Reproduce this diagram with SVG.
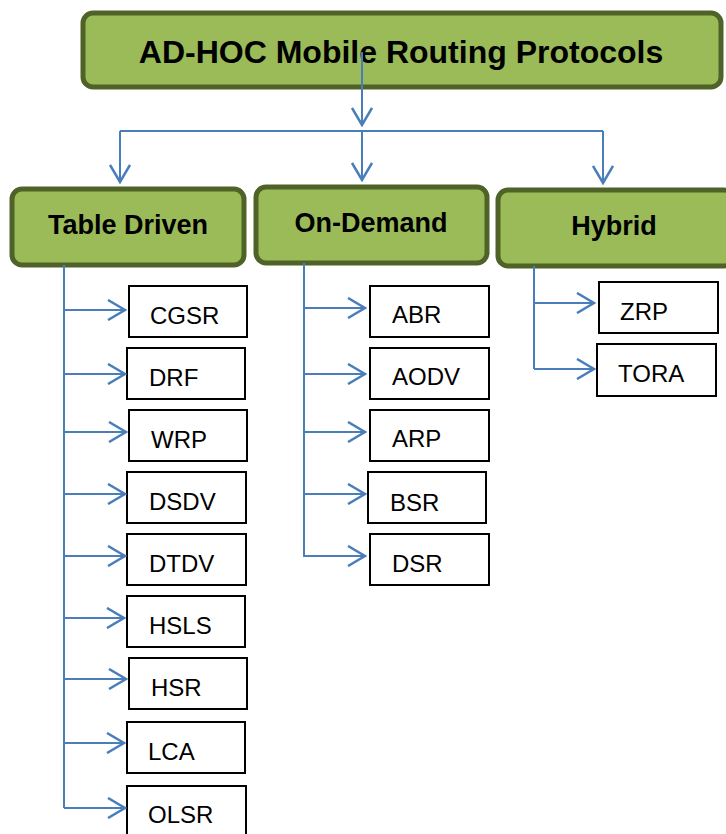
<svg xmlns="http://www.w3.org/2000/svg" width="726" height="834" viewBox="0 0 726 834">
<style>
.cat{fill:#9BBB59;stroke:#4F6228;stroke-width:5}
.leaf{fill:#FFFFFF;stroke:#000000;stroke-width:2}
.t1{font-family:"Liberation Sans",Arial,sans-serif;font-weight:bold;font-size:32px;fill:#000}
.t2{font-family:"Liberation Sans",Arial,sans-serif;font-weight:bold;font-size:27px;fill:#000}
.t3{font-family:"Liberation Sans",Arial,sans-serif;font-size:24px;fill:#000}
.c{fill:none;stroke:#4A7EBB;stroke-width:2}
</style>
<defs>
<marker id="ah" viewBox="0 0 20 22" refX="18" refY="11" markerWidth="20" markerHeight="22" markerUnits="userSpaceOnUse" orient="auto">
<path d="M1,1 L18,11 L1,21" fill="none" stroke="#4A7EBB" stroke-width="2.5"/>
</marker>
</defs>
<rect width="726" height="834" fill="#FFFFFF"/>
<g id="root">
<rect class="cat" x="83" y="13" width="638" height="74" rx="10"/>
<text class="t1" x="401" y="63" text-anchor="middle">AD-HOC Mobile Routing Protocols</text>
</g>
<g id="table-driven">
<rect class="cat" x="12" y="189" width="232" height="76" rx="10"/>
<text class="t2" x="128" y="234" text-anchor="middle">Table Driven</text>
</g>
<g id="on-demand">
<rect class="cat" x="256" y="187" width="231" height="76" rx="10"/>
<text class="t2" x="371" y="232" text-anchor="middle">On-Demand</text>
</g>
<g id="hybrid">
<rect class="cat" x="498" y="190" width="236" height="76" rx="10"/>
<text class="t2" x="614" y="235" text-anchor="middle">Hybrid</text>
</g>
<g id="cgsr"><rect class="leaf" x="129" y="286" width="118" height="51"/><text class="t3" x="150" y="324">CGSR</text></g>
<g id="drf"><rect class="leaf" x="127" y="348" width="118" height="51"/><text class="t3" x="149" y="386">DRF</text></g>
<g id="wrp"><rect class="leaf" x="129" y="410" width="118" height="51"/><text class="t3" x="151" y="448">WRP</text></g>
<g id="dsdv"><rect class="leaf" x="127" y="472" width="119" height="51"/><text class="t3" x="149" y="510">DSDV</text></g>
<g id="dtdv"><rect class="leaf" x="127" y="534" width="119" height="51"/><text class="t3" x="149" y="572">DTDV</text></g>
<g id="hsls"><rect class="leaf" x="127" y="596" width="118" height="51"/><text class="t3" x="149" y="634">HSLS</text></g>
<g id="hsr"><rect class="leaf" x="129" y="658" width="118" height="51"/><text class="t3" x="151" y="696">HSR</text></g>
<g id="lca"><rect class="leaf" x="127" y="722" width="118" height="51"/><text class="t3" x="148" y="760">LCA</text></g>
<g id="olsr"><rect class="leaf" x="127" y="786" width="119" height="60"/><text class="t3" x="148" y="823">OLSR</text></g>
<g id="abr"><rect class="leaf" x="370" y="286" width="119" height="51"/><text class="t3" x="392" y="323">ABR</text></g>
<g id="aodv"><rect class="leaf" x="370" y="348" width="119" height="51"/><text class="t3" x="392" y="385">AODV</text></g>
<g id="arp"><rect class="leaf" x="370" y="410" width="119" height="51"/><text class="t3" x="392" y="447">ARP</text></g>
<g id="bsr"><rect class="leaf" x="368" y="472" width="118" height="51"/><text class="t3" x="390" y="511">BSR</text></g>
<g id="dsr"><rect class="leaf" x="370" y="534" width="119" height="51"/><text class="t3" x="392" y="572">DSR</text></g>
<g id="zrp"><rect class="leaf" x="599" y="282" width="119" height="51"/><text class="t3" x="620" y="320">ZRP</text></g>
<g id="tora"><rect class="leaf" x="597" y="344" width="119" height="52"/><text class="t3" x="618" y="382">TORA</text></g>
<g id="connectors">
<path class="c" d="M362,52 L362,125" marker-end="url(#ah)"/>
<path class="c" d="M120,131 L603,131"/>
<path class="c" d="M120,131 L120,182" marker-end="url(#ah)"/>
<path class="c" d="M362,131 L362,180" marker-end="url(#ah)"/>
<path class="c" d="M603,131 L603,183" marker-end="url(#ah)"/>
<path class="c" d="M64,265 L64,808"/>
<path class="c" d="M64,310 L125,310" marker-end="url(#ah)"/>
<path class="c" d="M64,374 L125,374" marker-end="url(#ah)"/>
<path class="c" d="M64,432 L126,432" marker-end="url(#ah)"/>
<path class="c" d="M64,494 L125,494" marker-end="url(#ah)"/>
<path class="c" d="M64,556 L125,556" marker-end="url(#ah)"/>
<path class="c" d="M64,618 L124,618" marker-end="url(#ah)"/>
<path class="c" d="M64,679 L126,679" marker-end="url(#ah)"/>
<path class="c" d="M64,743 L124,743" marker-end="url(#ah)"/>
<path class="c" d="M64,808 L125,808" marker-end="url(#ah)"/>
<path class="c" d="M304,263 L304,557"/>
<path class="c" d="M304,308 L365,308" marker-end="url(#ah)"/>
<path class="c" d="M304,374 L365,374" marker-end="url(#ah)"/>
<path class="c" d="M304,432 L365,432" marker-end="url(#ah)"/>
<path class="c" d="M304,494 L365,494" marker-end="url(#ah)"/>
<path class="c" d="M304,556 L365,556" marker-end="url(#ah)"/>
<path class="c" d="M534,266 L534,369"/>
<path class="c" d="M534,303 L594,303" marker-end="url(#ah)"/>
<path class="c" d="M534,369 L594,369" marker-end="url(#ah)"/>
</g>
</svg>
